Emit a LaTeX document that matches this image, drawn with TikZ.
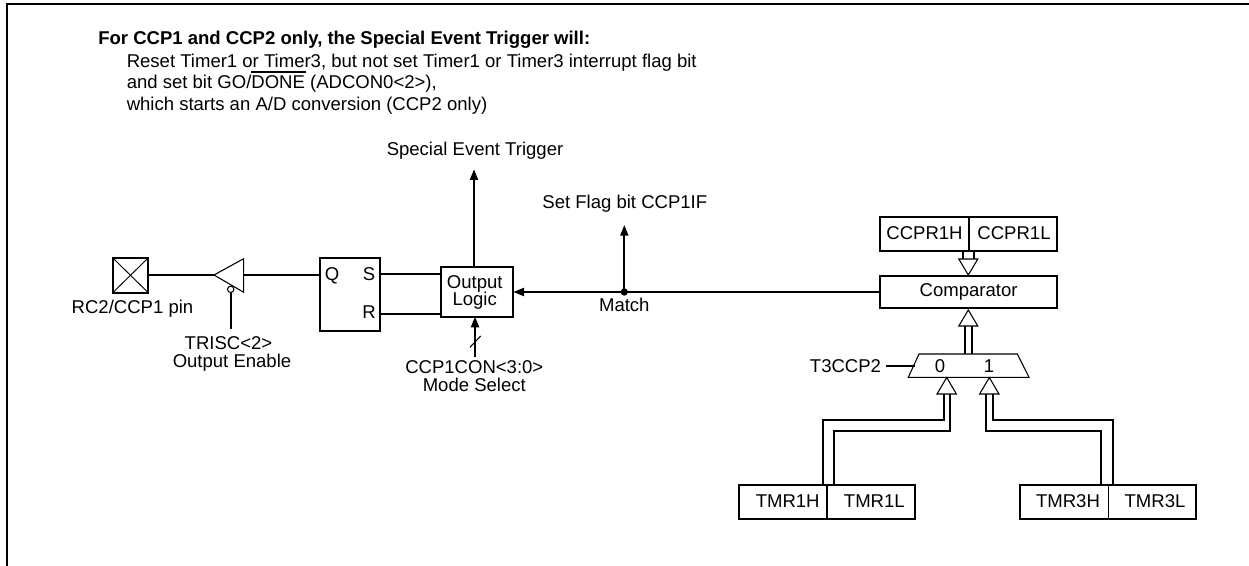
\documentclass[tikz,border=0pt]{standalone}
\usepackage{fontspec}
\setmainfont{Liberation Sans}
\usetikzlibrary{arrows.meta,calc}
\tikzset{
  x=0.75pt,y=-0.75pt,
  line/.style={line width=1.5pt,line cap=butt,line join=miter},
  thinline/.style={line width=0.8pt,line join=miter},
  boxb/.style={draw,line width=1.5pt,inner sep=0pt,outer sep=0pt},
  txt/.style={inner sep=0pt,anchor=base,align=center,font=\fontsize{13.9}{16}\selectfont},
  note/.style={inner sep=0pt,anchor=base west,font=\fontsize{13.9}{16}\selectfont},
  arr/.style={line,-{Triangle[length=8pt,width=6pt]}},
  dotn/.style={circle,fill=black,inner sep=0pt,minimum size=5.5pt},
  hollow/.style={thinline,fill=white},
}
\begin{document}
\begin{tikzpicture}
\useasboundingbox (0,0) rectangle (1249,566);
% frame
\draw[line width=1.5pt] (7,566) -- (7,4) -- (1249,4);
% note
\node[note,font=\fontsize{13.9}{16}\selectfont\bfseries] (t0) at (98,45) {For CCP1 and CCP2 only, the Special Event Trigger will:};
\node[note] (t1) at (126.5,67.7) {Reset Timer1 or Timer3, but not set Timer1 or Timer3 interrupt flag bit};
\node[note] (t2) at (126.5,89) {and set bit GO/DONE (ADCON0<2>),};
\node[note] (t3) at (126.5,111) {which starts an A/D conversion (CCP2 only)};
\coordinate (barL) at (251,72);
\coordinate (barR) at (306,72);
\draw[line width=1.1pt] (barL) -- (barR);
% pin
\node[boxb,minimum width=26.5pt,minimum height=26pt] (pin) at (130.5,275.3) {};
\draw[line width=0.7pt] (pin.north west) -- (pin.south east) (pin.north east) -- (pin.south west);
\node[txt] (pinl) at (132.5,314) {RC2/CCP1 pin};
% buffer
\coordinate (buftip) at (214,275);
\coordinate (bufb) at (243.7,258.7);
\coordinate (bufc) at (243.7,292.3);
\coordinate (bufback) at (243.7,275);
\draw[thinline] (buftip) -- (bufb) -- (bufc) -- cycle;
\node[draw,circle,line width=0.8pt,inner sep=0pt,minimum size=4.8pt,fill=white] (bub) at (230.7,289.3) {};
\coordinate (bubend) at (230.7,329.3);
\draw[line] (bub.south) -- (bubend);
\draw[line] (pin.east |- buftip) -- (buftip);
\node[txt] (tris) at (228.5,350) {TRISC<2>};
\node[txt] (oe) at (232,367.7) {Output Enable};
% latch
\node[boxb,minimum width=45.4pt,minimum height=54.5pt] (ff) at (349.8,294.3) {};
\draw[line] (bufback) -- (ff.west |- bufback);
\node[txt] (q) at (332,280.7) {Q};
\node[txt] (s) at (369,280.7) {S};
\node[txt] (r) at (369,318.5) {R};
% output logic
\node[boxb,minimum width=54.2pt,minimum height=37.5pt] (ol) at (477.2,291.7) {};
\node[txt] (ol1) at (474.7,288.7) {Output};
\node[txt] (ol2) at (474.7,306) {Logic};
\coordinate (sy) at (0,274.5);
\coordinate (ry) at (0,314);
\draw[line] (ff.east |- sy) -- (ol.west |- sy);
\draw[line] (ff.east |- ry) -- (ol.west |- ry);
% trigger
\coordinate (trigbase) at (474,266.7);
\coordinate (trigtip) at (474,169.3);
\draw[arr] (trigbase) -- (trigtip);
\node[txt] (set) at (475,156) {Special Event Trigger};
% match
\node[dotn] (m) at (624.3,292) {};
\coordinate (mtip) at (624.3,225);
\draw[arr] (m.center) -- (mtip);
\node[txt] (sf) at (624.8,208.3) {Set Flag bit CCP1IF};
\node[txt] (ml) at (624.3,311.7) {Match};
% comparator
\node[boxb,minimum width=133pt,minimum height=24.2pt,font=\fontsize{13.9}{16}\selectfont] (cmp) at (968.6,292.2) {Comparator};
\draw[arr] (cmp.west |- m) -- (ol.east |- m);
% mode select
\coordinate (modetail) at (475,356.7);
\draw[arr] (modetail) -- (ol.south -| modetail);
\coordinate (sl1) at (470,347.3);
\coordinate (sl2) at (480.7,336);
\draw[thinline] (sl1) -- (sl2);
\node[txt] (cc) at (474.3,373.3) {CCP1CON<3:0>};
\node[txt] (ms) at (474.3,391.7) {Mode Select};
% CCPR
\node[boxb,minimum width=133pt,minimum height=25.5pt] (ccpr) at (968.6,233.7) {};
\draw[line] (ccpr.north) -- (ccpr.south);
\node[txt] (c1) at (924.5,240) {CCPR1H};
\node[txt] (c2) at (1014,240) {CCPR1L};
% mux
\coordinate (mtl) at (919,354);
\coordinate (mtr) at (1017.3,354);
\coordinate (mbr) at (1029,377.3);
\coordinate (mbl) at (908.3,377.3);
\draw[thinline] (mtl) -- (mtr) -- (mbr) -- (mbl) -- cycle;
\node[txt] (m0) at (940,372.3) {0};
\node[txt] (m1) at (989,372.3) {1};
\node[txt] (t3c) at (845.5,372.3) {T3CCP2};
\coordinate (selA) at (886,365.7);
\coordinate (selB) at (915,365.7);
\draw[line] (selA) -- (selB);
% TMR boxes
\node[boxb,minimum width=132pt,minimum height=25.3pt] (tm1) at (827,501.8) {};
\draw[line] (tm1.north) -- (tm1.south);
\node[txt] (a1) at (787.7,507.7) {TMR1H};
\node[txt] (a2) at (874.3,507.7) {TMR1L};
\node[boxb,minimum width=132pt,minimum height=25.3pt] (tm3) at (1108,501.8) {};
\draw[line width=0.6pt] (tm3.north) -- (tm3.south);
\node[txt] (b1) at (1068,507.7) {TMR3H};
\node[txt] (b2) at (1155,507.7) {TMR3L};
% hollow arrow: CCPR to comparator
\coordinate (dn1) at (968.3,275);
\draw[hollow] (dn1) -- ++(9.5,-16) -- ++(-19,0) -- cycle;
\draw[line] (963,259) -- (963,251) (973.5,259) -- (973.5,251);
% hollow arrow: mux to comparator
\coordinate (up1) at (968.3,310);
\draw[hollow] (up1) -- ++(9.5,16) -- ++(-19,0) -- cycle;
\draw[line] (965,326) -- (965,354) (971.7,326) -- (971.7,354);
% buses
\coordinate (tipL) at (946.7,377.5);
\coordinate (tipR) at (989.3,377.5);
\draw[hollow] (tipL) -- ++(9.7,16.5) -- ++(-19.4,0) -- cycle;
\draw[hollow] (tipR) -- ++(9.7,16.5) -- ++(-19.4,0) -- cycle;
\draw[line] (944,394) -- (944,420) -- (823.3,420) -- (tm1.north -| 823.3,0);
\draw[line] (950,394) -- (950,431) -- (834,431) -- (tm1.north -| 834,0);
\draw[line] (993.3,394) -- (993.3,420) -- (1112.7,420) -- (tm3.north -| 1112.7,0);
\draw[line] (986,394) -- (986,431) -- (1101,431) -- (tm3.north -| 1101,0);
\end{tikzpicture}
\end{document}
